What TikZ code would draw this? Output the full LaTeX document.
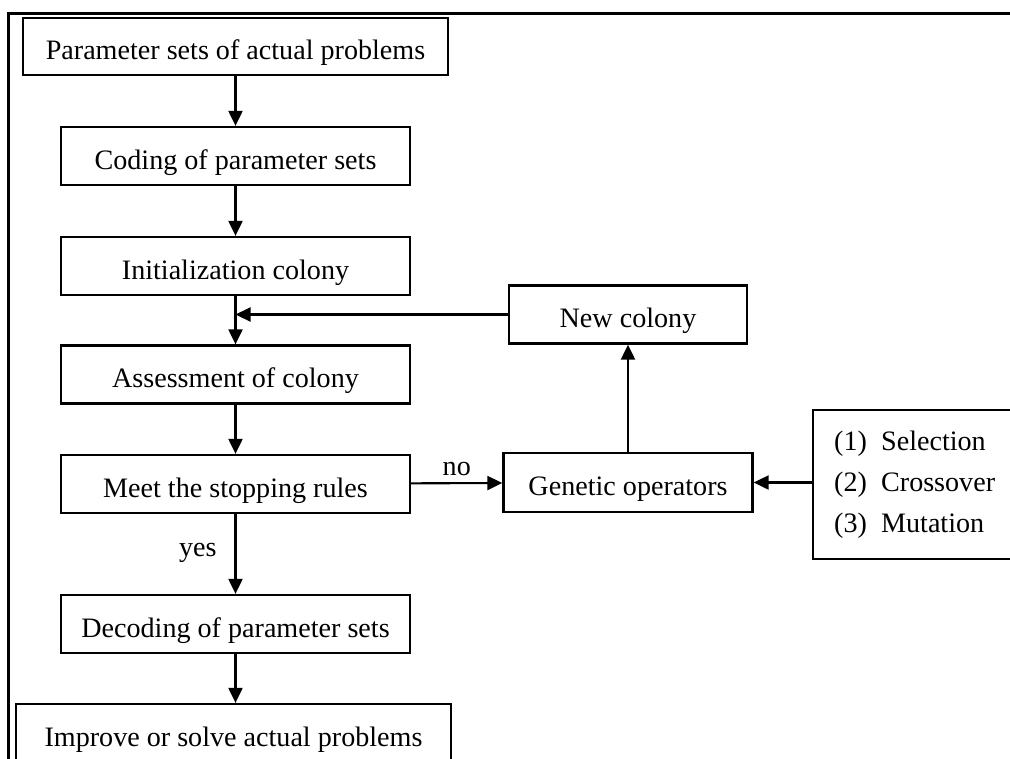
\documentclass[tikz,border=0pt]{standalone}
\usepackage{fontspec}
\setmainfont{Liberation Serif}
\usepackage{tikz}
\usetikzlibrary{calc,positioning,arrows.meta}

\begin{document}
\begin{tikzpicture}[x=0.2mm,y=-0.2mm,
  frame/.style={draw,line width=1.3pt,inner sep=0pt},
  box/.style={frame,minimum width=69.8mm,minimum height=11.6mm,text height=5.2mm,text depth=0pt,font=\fontsize{16}{19}\selectfont},
  arr/.style={line width=1.2pt,-{Triangle[length=3mm,width=2.8mm]}},
  lbl/.style={font=\fontsize{16}{19}\selectfont}]
\useasboundingbox (0,0) rectangle (1010,758);
\draw[line width=2pt] (8.5,770) -- (8.5,13.5) -- (1020,13.5);
\node[box,minimum width=85mm,minimum height=11.4mm] (param) at (235.5,46.5) {Parameter sets of actual problems};
\node[box] (coding) at (235.5,156) {Coding of parameter sets};
\node[box] (init) at (235.5,266) {Initialization colony};
\node[box] (assess) at (235.5,374.5) {Assessment of colony};
\node[box] (meet) at (235.5,484) {Meet the stopping rules};
\node[box] (decode) at (235.5,624) {Decoding of parameter sets};
\node[box,minimum width=87mm] (improve) at (233.5,733) {Improve or solve actual problems};
\node[box,minimum width=47.6mm] (newcol) at (628,314.5) {New colony};
\node[box,minimum width=49.8mm,minimum height=11.8mm] (genetic) at (628,482.5) {Genetic operators};
\node[frame,anchor=north west,align=left,text width=36mm,inner xsep=4.2mm,minimum height=29.8mm,font=\fontsize{16}{23.5}\selectfont] (ops) at (812,409)
  {\makebox[9.4mm][l]{(1)}Selection\\\makebox[9.4mm][l]{(2)}Crossover\\\makebox[9.4mm][l]{(3)}Mutation};
\draw[arr] (param) -- (coding);
\draw[arr] (coding) -- (init);
\draw[arr] (init) -- (assess);
\draw[arr] (newcol) -- (newcol -| init);
\draw[arr] (assess) -- (meet);
\draw[arr] (meet) -- node[lbl,above] {no} (genetic);
\draw[arr] (genetic) -- (newcol);
\draw[arr] (ops.west |- genetic) -- (genetic);
\draw[arr] (meet) -- node[lbl,left=2.4mm,pos=.48] {yes} (decode);
\draw[arr] (decode) -- (decode |- improve.north);
\end{tikzpicture}
\end{document}
